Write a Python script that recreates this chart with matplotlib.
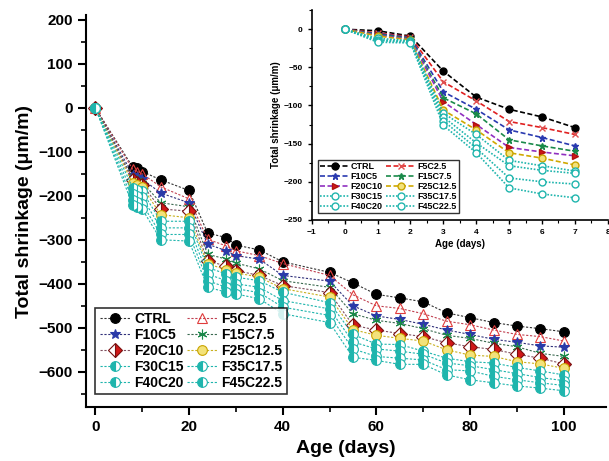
import numpy as np
import matplotlib
matplotlib.use('Agg')
from matplotlib import pyplot as plt
from matplotlib.ticker import MultipleLocator

plt.rcParams['font.family'] = ['Liberation Sans', 'DejaVu Sans']
plt.rcParams['font.weight'] = 'bold'

# ---- main data (days 0-100) ----
days = [0, 8, 9, 10, 14, 20, 24, 28, 30, 35, 40, 50, 55, 60, 65, 70, 75, 80, 85, 90, 95, 100]

ctrl = [0, -135, -137, -145, -164, -188, -285, -295, -312, -323, -350, -374, -398, -424, -432, -441, -466, -477, -488, -496, -502, -509]
f5c25 = [0, -140, -145, -150, -180, -207, -299, -314, -325, -336, -354, -381, -425, -450, -456, -468, -485, -493, -505, -515, -520, -530]
f10c5 = [0, -152, -157, -162, -194, -216, -310, -325, -336, -344, -381, -394, -450, -473, -481, -492, -505, -515, -526, -533, -541, -544]
f15c75 = [0, -160, -165, -170, -216, -225, -333, -344, -353, -366, -393, -408, -468, -483, -490, -502, -517, -524, -535, -543, -558, -565]
f20c10 = [0, -165, -170, -175, -230, -235, -348, -360, -370, -381, -404, -420, -494, -505, -513, -520, -534, -543, -549, -560, -569, -582]
f25c125 = [0, -172, -176, -180, -243, -250, -355, -368, -375, -385, -411, -430, -504, -517, -524, -530, -550, -562, -565, -577, -582, -592]
f30c15 = [0, -182, -186, -190, -258, -258, -363, -378, -385, -393, -419, -443, -515, -537, -538, -553, -569, -577, -580, -590, -598, -607]
f35c175 = [0, -196, -200, -204, -273, -273, -378, -393, -400, -408, -438, -457, -532, -548, -553, -560, -580, -586, -595, -604, -613, -620]
f40c20 = [0, -210, -214, -218, -288, -288, -393, -408, -411, -420, -453, -472, -548, -565, -569, -573, -595, -598, -610, -618, -625, -631]
f45c225 = [0, -222, -226, -230, -300, -303, -408, -419, -423, -434, -468, -488, -567, -574, -583, -583, -607, -618, -625, -632, -637, -643]

# ---- inset data (first week) ----
days_early = [0, 1, 2, 3, 4, 5, 6, 7]
ctrl_e = [0, -2, -9, -55, -89, -105, -115, -129]
f5c25_e = [0, -5, -10, -69, -94, -121, -129, -138]
f10c5_e = [0, -6, -11, -82, -105, -132, -142, -153]
f15c75_e = [0, -7, -12, -90, -111, -145, -153, -160]
f20c10_e = [0, -8, -13, -95, -125, -155, -161, -166]
f25c125_e = [0, -9, -14, -106, -132, -162, -169, -178]
f30c15_e = [0, -12, -15, -110, -138, -172, -179, -186]
f35c175_e = [0, -14, -16, -115, -149, -179, -185, -189]
f40c20_e = [0, -15, -17, -120, -156, -195, -200, -203]
f45c225_e = [0, -17, -18, -126, -162, -208, -216, -221]

labels = ['CTRL', 'F5C2.5', 'F10C5', 'F15C7.5', 'F20C10',
          'F25C12.5', 'F30C15', 'F35C17.5', 'F40C20', 'F45C22.5']
main_series = [ctrl, f5c25, f10c5, f15c75, f20c10, f25c125, f30c15, f35c175, f40c20, f45c225]
early_series = [ctrl_e, f5c25_e, f10c5_e, f15c75_e, f20c10_e, f25c125_e,
                f30c15_e, f35c175_e, f40c20_e, f45c225_e]

# legend reads row by row: CTRL F5C2.5 / F10C5 F15C7.5 / ...
leg_order = [0, 2, 4, 6, 8, 1, 3, 5, 7, 9]

teal = '#1fb5ad'
styles = [
    dict(color='#333333', marker='o', mfc='black', mec='black', fs='full'),
    dict(color='#c04050', marker='^', mfc='none', mec='#e03c3c', fs='full'),
    dict(color='#30307a', marker='*', mfc='#2a3aa8', mec='#2a3aa8', fs='full'),
    dict(color='#3a6a50', marker=(6, 2, 0), mfc='#1a8a4a', mec='#1a8a4a', fs='full'),
    dict(color='#805060', marker='D', mfc='#d01818', mec='#7a1010', fs='right'),
    dict(color='#c8b020', marker='o', mfc='#f3e27a', mec='#c9a400', fs='full'),
    dict(color=teal, marker='o', mfc=teal, mec=teal, fs='left'),
    dict(color=teal, marker='o', mfc=teal, mec=teal, fs='left'),
    dict(color=teal, marker='o', mfc=teal, mec=teal, fs='left'),
    dict(color=teal, marker='o', mfc=teal, mec=teal, fs='left'),
]

fig = plt.figure(figsize=(6.09, 4.61), dpi=100)
ax = fig.add_axes([0.141, 0.117, 0.854, 0.85])

for y, lab, st in zip(main_series, labels, styles):
    ax.plot(days, y, linestyle=(0, (2, 1.5)), linewidth=0.8, color=st['color'],
            marker=st['marker'], markersize=7, markerfacecolor=st['mfc'],
            markeredgecolor=st['mec'], markerfacecoloralt='white',
            fillstyle=st['fs'], markeredgewidth=0.8, label=lab)

ax.set_xlim(-2, 109)
ax.set_ylim(-680, 210)
ax.xaxis.set_major_locator(MultipleLocator(20))
ax.xaxis.set_minor_locator(MultipleLocator(10))
ax.yaxis.set_major_locator(MultipleLocator(100))
ax.yaxis.set_minor_locator(MultipleLocator(50))
ax.spines['top'].set_visible(False)
ax.spines['right'].set_visible(False)
for s in ['left', 'bottom']:
    ax.spines[s].set_linewidth(1.5)
ax.tick_params(which='major', direction='out', length=6, width=1.5, labelsize=11)
ax.tick_params(which='minor', direction='out', length=3.5, width=1.2)
ax.set_xlabel('Age (days)', fontsize=14, fontweight='bold')
ax.set_ylabel('Total shrinkage (\u03bcm/m)', fontsize=14, fontweight='bold')

h, l = ax.get_legend_handles_labels()
leg = ax.legend([h[i] for i in leg_order], [l[i] for i in leg_order],
                ncol=2, loc='lower left', bbox_to_anchor=(0.005, 0.015),
                fontsize=10, frameon=True, fancybox=False, edgecolor='black',
                handlelength=2.2, labelspacing=0.15, columnspacing=0.2,
                handletextpad=0.3, borderpad=0.3)
leg.get_frame().set_linewidth(1.2)

# ---- inset ----
inset_styles = [
    dict(color='black', marker='o', mfc='black', mec='black', ls=(0, (3, 1.5))),
    dict(color='#e02020', marker='x', mfc='none', mec='#e05050', ls=(0, (3, 1.5))),
    dict(color='#2a3ab0', marker='*', mfc='#2a3ab0', mec='#2a3ab0', ls=(0, (3, 1.5))),
    dict(color='#1a8a4a', marker='*', mfc='#1a8a4a', mec='#1a8a4a', ls=(0, (3, 1.5))),
    dict(color='#9030c0', marker='>', mfc='#d01818', mec='#b01010', ls=(0, (3, 1.5))),
    dict(color='#d0a800', marker='o', mfc='#f3e27a', mec='#c9a400', ls=(0, (3, 1.5))),
    dict(color=teal, marker='o', mfc='white', mec=teal, ls=(0, (1, 1))),
    dict(color=teal, marker='o', mfc='white', mec=teal, ls=(0, (1, 1))),
    dict(color=teal, marker='o', mfc='white', mec=teal, ls=(0, (1, 1))),
    dict(color=teal, marker='o', mfc='white', mec=teal, ls=(0, (1, 1))),
]

axi = fig.add_axes([0.512, 0.523, 0.486, 0.455])
for y, lab, st in zip(early_series, labels, inset_styles):
    axi.plot(days_early, y, linestyle=st['ls'], linewidth=1.2, color=st['color'],
             marker=st['marker'], markersize=5, markerfacecolor=st['mfc'],
             markeredgecolor=st['mec'], markeredgewidth=1, label=lab)

axi.set_xlim(-1, 8)
axi.set_ylim(-250, 25)
axi.xaxis.set_major_locator(MultipleLocator(1))
axi.xaxis.set_minor_locator(MultipleLocator(0.5))
axi.yaxis.set_major_locator(MultipleLocator(50))
axi.yaxis.set_minor_locator(MultipleLocator(25))
axi.spines['top'].set_visible(False)
axi.spines['right'].set_visible(False)
for s in ['left', 'bottom']:
    axi.spines[s].set_linewidth(1.2)
axi.tick_params(which='major', direction='out', length=3, width=1, labelsize=6)
axi.tick_params(which='minor', direction='out', length=2, width=0.8)
axi.set_xlabel('Age (days)', fontsize=7, fontweight='bold', labelpad=2)
axi.set_ylabel('Total shrinkage (\u03bcm/m)', fontsize=7, fontweight='bold', labelpad=2)

hi, li = axi.get_legend_handles_labels()
legi = axi.legend([hi[i] for i in leg_order], [li[i] for i in leg_order],
                  ncol=2, loc='lower left', bbox_to_anchor=(0.005, 0.01),
                  fontsize=6.5, frameon=True, fancybox=False, edgecolor='black',
                  handlelength=3.2, labelspacing=0.1, columnspacing=0.4,
                  handletextpad=0.2, borderpad=0.25)
legi.get_frame().set_linewidth(1)

fig.savefig('out.png', dpi=100)
